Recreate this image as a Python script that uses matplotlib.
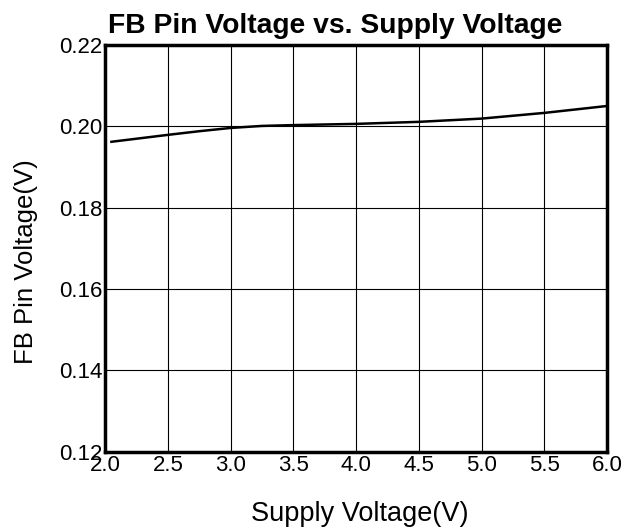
import matplotlib.pyplot as plt

# Supply voltage (V) and FB pin voltage (V)
supply_v = [2.05, 2.5, 2.75, 3.0, 3.25, 3.5, 4.0, 4.5, 5.0, 5.5, 6.0]
fb_v = [0.1962, 0.1979, 0.1988, 0.1996, 0.2001, 0.2003, 0.2006, 0.2011, 0.2019, 0.2033, 0.2050]

x_ticks = [2.0, 2.5, 3.0, 3.5, 4.0, 4.5, 5.0, 5.5, 6.0]
y_ticks = [0.12, 0.14, 0.16, 0.18, 0.20, 0.22]

plt.rcParams['font.family'] = ['Liberation Sans', 'DejaVu Sans']

fig = plt.figure(figsize=(6.41, 5.29), dpi=100)
ax = fig.add_axes([0.164, 0.146, 0.783, 0.769])

ax.plot(supply_v, fb_v, color='black', linewidth=1.8)

ax.set_xlim(2.0, 6.0)
ax.set_ylim(0.12, 0.22)
ax.set_xticks(x_ticks)
ax.set_xticklabels([f'{v:.1f}' for v in x_ticks])
ax.set_yticks(y_ticks)
ax.set_yticklabels([f'{v:.2f}' for v in y_ticks])
ax.tick_params(length=0, labelsize=16, pad=2)
ax.grid(True, color='black', linewidth=0.8)
for s in ax.spines.values():
    s.set_linewidth(2.5)

ax.set_xlabel('Supply Voltage(V)', fontsize=19.5)
ax.xaxis.set_label_coords(0.508, -0.12)
ax.set_ylabel('FB Pin Voltage(V)', fontsize=18.5)
ax.yaxis.set_label_coords(-0.134, 0.467)

# title sits a bit left of the axes centre in the original
fig.text(335 / 641, 1 - 33 / 529, 'FB Pin Voltage vs. Supply Voltage',
         fontsize=20.3, fontweight='bold', ha='center', va='baseline')

fig.savefig('out.png', dpi=100)
